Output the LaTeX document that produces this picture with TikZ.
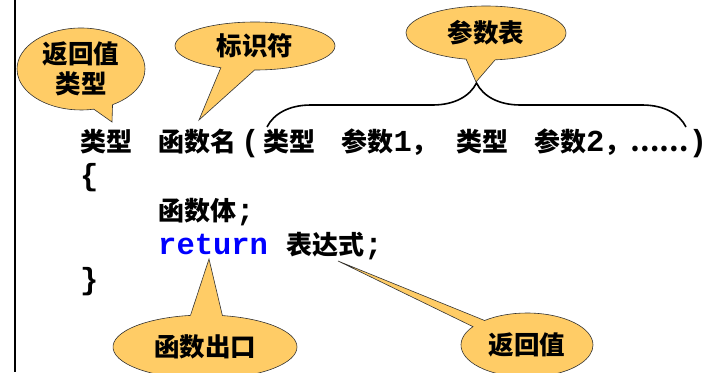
\documentclass[tikz,border=0pt]{standalone}
\usepackage{fontspec}
\setmonofont{Liberation Mono}
\newfontfamily\zhfont{Noto Sans CJK SC}
\usetikzlibrary{shapes.geometric,shapes.callouts,decorations.pathreplacing}

\definecolor{bubblefill}{RGB}{255,204,102}
\newcommand\zh[1]{{\zhfont\fontsize{26pt}{30pt}\selectfont #1}}
\newcommand\asc[1]{{\ttfamily\fontsize{30.5pt}{34pt}\selectfont #1}}

\tikzset{
  bubble/.style = {ellipse callout, fill = bubblefill, draw = black!80, line width = 0.6pt,
    inner sep = 0pt, callout pointer arc = 20, align = center,
    font = \zhfont\bfseries\fontsize{25.5pt}{30pt}\selectfont},
  codeline/.style = {anchor = base west, inner sep = 0pt, font = \bfseries}
}

\begin{document}
\begin{tikzpicture}[x = 1pt, y = -1pt]
\useasboundingbox (0,0) rectangle (706,372);
\draw[line width = 2.5pt] (15,0) -- (15,372);

\node[codeline] (sig) at (80,151) {\zh{类型　函数名}\hspace{5pt}\asc{(}\hspace{4pt}\zh{类型　参数}\asc{1}\zh{，}\asc{\ }\zh{类型　参数}\asc{2}\zh{，……}\asc{)}};
\node[codeline] (lbrace) at (80,185.5) {\asc{\{}};
\node[codeline] (body) at (158,220) {\zh{函数体}\asc{;}};
\node[codeline] (ret) at (158,254.5) {\asc{\textcolor{blue}{return}\ }\zh{表达式}\asc{;}};
\node[codeline] (rbrace) at (80,289) {\asc{\}}};

\coordinate (tiptype) at (112,122);
\coordinate (tipname) at (199,120);
\coordinate (tipparam) at (476,82);
\coordinate (tipexit) at (209,259);
\coordinate (tipvalue) at (338,261);
\coordinate (braceleft) at (267,127);
\coordinate (braceright) at (686,127);

\draw[line width = 1.6pt, decorate, decoration = {brace, amplitude = 44pt}] (braceleft) -- (braceright);

\node[bubble, minimum width = 128pt, minimum height = 82pt, callout absolute pointer = {(tiptype)}, callout pointer arc = 18] (rettype) at (81,69) {返回值\\类型};
\node[bubble, minimum width = 160pt, minimum height = 48pt, callout absolute pointer = {(tipname)}, callout pointer arc = 25] (ident) at (255,46) {标识符};
\node[bubble, minimum width = 160pt, minimum height = 54pt, callout absolute pointer = {(tipparam)}, callout pointer arc = 21] (params) at (486,33) {参数表};
\node[bubble, minimum width = 184pt, minimum height = 64pt, callout absolute pointer = {(tipexit)}] (exit) at (205,347) {函数出口};
\node[bubble, minimum width = 132pt, minimum height = 64pt, callout absolute pointer = {(tipvalue)}, callout pointer arc = 15] (retval) at (527,345) {返回值};
\end{tikzpicture}
\end{document}
